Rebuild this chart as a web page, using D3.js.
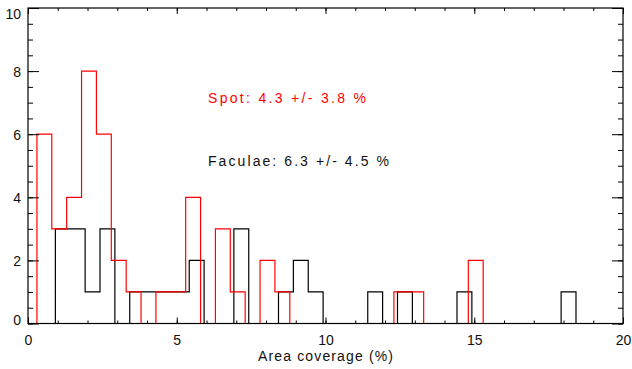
<!DOCTYPE html>
<html><head><meta charset="utf-8">
<script src="https://cdn.jsdelivr.net/npm/d3@7/dist/d3.min.js"></script>
<style>
html,body{margin:0;padding:0;background:#fff;}
svg{display:block;}
text{font-family:"Liberation Sans",Arial,sans-serif;}
</style></head>
<body>
<svg id="chart" width="632" height="369"></svg>
<script>
// ---- data ----
const binWidth = 0.5;
const spotStart = 0.3;        // left edge of first spot bin (% area)
const spotEnd = 15.55;        // end of the drawn spot baseline
const spotCounts = [6,3,4,8,6,2,1,0,1,1,4,0,3,1,0,2,1,0,0,0,0,0,0,0,1,1,0,0,0,2];
const facStart = 0.92;        // left edge of first faculae bin
const facEnd = 20;
const facCounts = [3,3,1,3,0,1,1,1,1,2,0,0,3,0,0,1,2,1,0,0,0,1,0,1,0,0,0,1,0,0,0,0,0,0,1];
const xMajorTicks = [0,5,10,15,20];
const xMinorTicks = d3.range(0,21,1);
const yMajorTicks = [0,2,4,6,8,10];
const yMinorTicks = d3.range(0,10.01,0.5);
const xTitle = "Area coverage (%)";
const spotLabel = "Spot: 4.3 +/- 3.8 %";
const facLabel = "Faculae: 6.3 +/- 4.5 %";

// ---- layout ----
const L = 28, R = 623, T = 8, B = 323.5;
const x = d3.scaleLinear().domain([0,20]).range([L,R]);
const y = d3.scaleLinear().domain([0,10]).range([B,T]);
const svg = d3.select("#chart");

svg.append("defs").append("clipPath").attr("id","clip")
  .append("rect").attr("x",L).attr("y",T-1).attr("width",R-L).attr("height",B-T+1);

function stepPoints(start, counts, endX){
  const pts = [[0,0],[start,0]];
  counts.forEach((c,i)=>{
    const a = start + i*binWidth, b = a + binWidth;
    pts.push([a,c]); pts.push([b,c]);
  });
  const last = start + counts.length*binWidth;
  pts.push([last,0]); pts.push([endX,0]);
  return pts;
}
const line = d3.line().x(d=>x(d[0])).y(d=>y(d[1]));
const g = svg.append("g").attr("clip-path","url(#clip)");
g.append("path").attr("d", line(stepPoints(facStart, facCounts, facEnd)))
  .attr("fill","none").attr("stroke","#000").attr("stroke-width",1.2);
g.append("path").attr("d", line(stepPoints(spotStart, spotCounts, spotEnd)))
  .attr("fill","none").attr("stroke","#ff0000").attr("stroke-width",1.2);

// ---- axes ----
function styleAxis(sel){
  sel.select(".domain").remove();
  sel.selectAll("line").attr("stroke","#000").attr("stroke-width",1);
  sel.selectAll("text").attr("fill","#111").style("font-size","14px")
     .style("font-family",'"Liberation Sans",Arial,sans-serif');
}
// bottom
svg.append("g").attr("transform",`translate(0,${B})`)
  .call(d3.axisBottom(x).tickValues(xMinorTicks).tickSize(-3).tickFormat(""))
  .call(styleAxis);
svg.append("g").attr("transform",`translate(0,${B})`)
  .call(d3.axisBottom(x).tickValues(xMajorTicks).tickSize(-6).tickPadding(12).tickFormat(d3.format("d")))
  .call(styleAxis);
// top
svg.append("g").attr("transform",`translate(0,${T})`)
  .call(d3.axisTop(x).tickValues(xMinorTicks).tickSize(-3).tickFormat("")).call(styleAxis);
svg.append("g").attr("transform",`translate(0,${T})`)
  .call(d3.axisTop(x).tickValues(xMajorTicks).tickSize(-6).tickFormat("")).call(styleAxis);
// left
svg.append("g").attr("transform",`translate(${L},0)`)
  .call(d3.axisLeft(y).tickValues(yMinorTicks).tickSize(-5).tickFormat("")).call(styleAxis);
const yl = svg.append("g").attr("transform",`translate(${L},0)`)
  .call(d3.axisLeft(y).tickValues(yMajorTicks).tickSize(-11).tickPadding(7).tickFormat(d3.format("d")))
  .call(styleAxis);
yl.selectAll(".tick text").attr("dy", d => d===10 ? "0.75em" : (d===0 ? "0.1em" : "0.36em"));
// right
svg.append("g").attr("transform",`translate(${R},0)`)
  .call(d3.axisRight(y).tickValues(yMinorTicks).tickSize(-5).tickFormat("")).call(styleAxis);
svg.append("g").attr("transform",`translate(${R},0)`)
  .call(d3.axisRight(y).tickValues(yMajorTicks).tickSize(-11).tickFormat("")).call(styleAxis);

// frame
svg.append("rect").attr("x",L).attr("y",T).attr("width",R-L).attr("height",B-T)
  .attr("fill","none").attr("stroke","#000").attr("stroke-width",1.2);

// titles / annotations
svg.append("text").attr("x",(L+R)/2).attr("y",361).attr("text-anchor","middle")
  .style("font-size","14px").attr("fill","#111")
  .attr("textLength",135).attr("lengthAdjust","spacing").text(xTitle);
svg.append("text").attr("x",x(6.05)).attr("y",103.3)
  .style("font-size","14px").attr("fill","#ff0000")
  .attr("textLength",158).attr("lengthAdjust","spacing").text(spotLabel);
svg.append("text").attr("x",x(6.05)).attr("y",166.3)
  .style("font-size","14px").attr("fill","#111")
  .attr("textLength",181).attr("lengthAdjust","spacing").text(facLabel);
</script>
</body></html>
